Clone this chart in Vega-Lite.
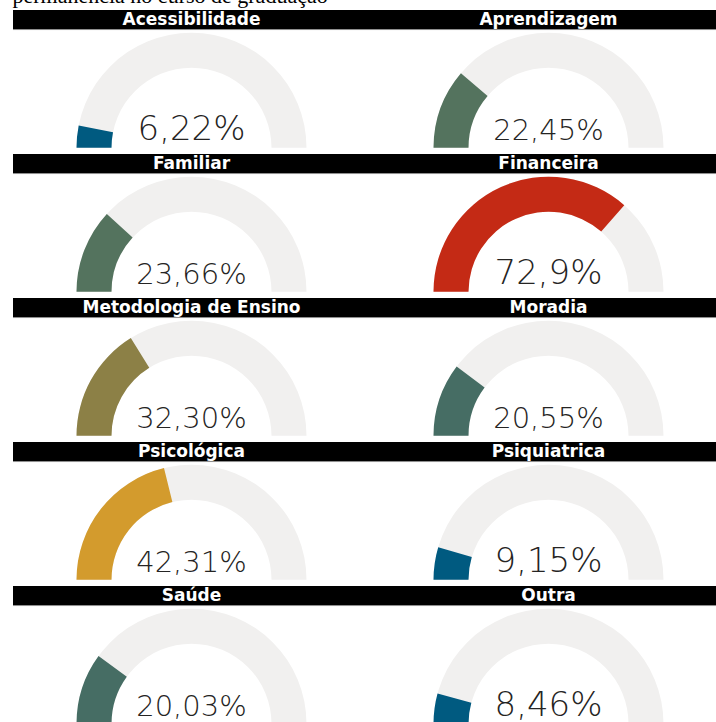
{
  "$schema": "https://vega.github.io/schema/vega-lite/v6.json",
  "padding": {"left": 12, "top": -15, "right": -10, "bottom": 0},
  "autosize": {"type": "pad"},
  "background": "white",
  "title": {"text": "permanência no curso de graduação", "font": "Liberation Serif", "fontSize": 22, "fontWeight": "normal", "color": "#000000", "anchor": "start", "baseline": "alphabetic", "offset": -15},
  "data": {"values": [
    {"categoria": "Acessibilidade", "valor": 6.22, "rotulo": "6,22%"},
    {"categoria": "Aprendizagem", "valor": 22.45, "rotulo": "22,45%"},
    {"categoria": "Familiar", "valor": 23.66, "rotulo": "23,66%"},
    {"categoria": "Financeira", "valor": 72.9, "rotulo": "72,9%"},
    {"categoria": "Metodologia de Ensino", "valor": 32.30, "rotulo": "32,30%"},
    {"categoria": "Moradia", "valor": 20.55, "rotulo": "20,55%"},
    {"categoria": "Psicológica", "valor": 42.31, "rotulo": "42,31%"},
    {"categoria": "Psiquiatrica", "valor": 9.15, "rotulo": "9,15%"},
    {"categoria": "Saúde", "valor": 20.03, "rotulo": "20,03%"},
    {"categoria": "Outra", "valor": 8.46, "rotulo": "8,46%"}
  ]},
  "facet": {"field": "categoria", "type": "nominal", "sort": ["Acessibilidade", "Aprendizagem", "Familiar", "Financeira", "Metodologia de Ensino", "Moradia", "Psicológica", "Psiquiatrica", "Saúde", "Outra"], "header": {"title": null, "labels": false, "labelExpr": "''", "labelFontSize": 0, "labelPadding": 0, "titlePadding": 0}},
  "columns": 2,
  "bounds": "flush",
  "spacing": {"row": 6, "column": 0},
  "spec": {
    "width": 357,
    "height": 137.75,
    "layer": [
      {
        "mark": {"type": "rect", "color": "#000000"},
        "encoding": {
          "x": {"datum": 0, "type": "quantitative", "scale": {"domain": [0, 1], "nice": false, "zero": false}, "axis": null},
          "x2": {"datum": 1},
          "y": {"datum": 1, "type": "quantitative", "scale": {"domain": [0, 1], "nice": false, "zero": false}, "axis": null},
          "y2": {"datum": 0.862}
        }
      },
      {
        "mark": {"type": "rule", "color": "#8a8a8a", "strokeWidth": 1},
        "encoding": {
          "x": {"datum": 0, "type": "quantitative"},
          "x2": {"datum": 1},
          "y": {"datum": 0.858, "type": "quantitative"}
        }
      },
      {
        "mark": {"type": "text", "color": "#ffffff", "font": "DejaVu Sans", "fontWeight": "bold", "fontSize": 17, "baseline": "middle", "align": "center"},
        "encoding": {
          "x": {"datum": 0.5, "type": "quantitative"},
          "y": {"datum": 0.931, "type": "quantitative"},
          "text": {"field": "categoria"}
        }
      },
      {
        "mark": {"type": "arc", "radius": 115, "radius2": 80, "color": "#F1F0EF"},
        "encoding": {
          "x": {"datum": 0.5, "type": "quantitative"},
          "y": {"datum": 0, "type": "quantitative"},
          "theta": {"datum": 0, "type": "quantitative", "scale": {"domain": [0, 100], "range": [-1.5708, 1.5708], "zero": false, "nice": false}},
          "theta2": {"datum": 100}
        }
      },
      {
        "mark": {"type": "arc", "radius": 115, "radius2": 80},
        "encoding": {
          "x": {"datum": 0.5, "type": "quantitative"},
          "y": {"datum": 0, "type": "quantitative"},
          "theta": {"field": "valor", "type": "quantitative", "stack": null, "scale": {"domain": [0, 100], "range": [-1.5708, 1.5708], "zero": false, "nice": false}},
          "theta2": {"datum": 0},
          "color": {
            "field": "categoria", "type": "nominal", "legend": null,
            "scale": {
              "domain": ["Acessibilidade", "Aprendizagem", "Familiar", "Financeira", "Metodologia de Ensino", "Moradia", "Psicológica", "Psiquiatrica", "Saúde", "Outra"],
              "range": ["#005A80", "#54735E", "#54735E", "#C42A15", "#8C8046", "#466D64", "#D39B2D", "#005A80", "#466D64", "#005A80"]
            }
          }
        }
      },
      {
        "mark": {"type": "text", "color": "#252423", "font": "DejaVu Sans", "fontWeight": 200, "fontSize": {"expr": "length(datum.rotulo) > 5 ? 29 : 34"}, "baseline": "alphabetic", "align": "center"},
        "encoding": {
          "x": {"datum": 0.5, "type": "quantitative"},
          "y": {"datum": 0.056, "type": "quantitative"},
          "text": {"field": "rotulo"}
        }
      }
    ]
  },
  "config": {"view": {"stroke": null}, "header": {"labels": false, "title": null}}
}
